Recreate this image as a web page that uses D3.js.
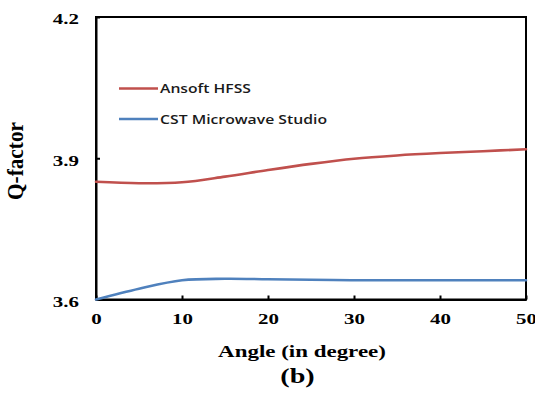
<!DOCTYPE html>
<html>
<head>
<meta charset="utf-8">
<script src="https://cdn.jsdelivr.net/npm/d3@7"></script>
<style>
  html, body { margin: 0; padding: 0; background: #fff; }
  svg { display: block; }
</style>
</head>
<body>
<svg id="chart" width="535" height="402"></svg>
<script>
// Incidence angle (degrees) and simulated Q-factor from two solvers
const angles = [0, 5, 10, 15, 20, 25, 30, 35, 40, 45, 50];
const hfssQ  = [3.850, 3.847, 3.849, 3.861, 3.875, 3.888, 3.899, 3.906, 3.911, 3.915, 3.919];
const cstQ   = [3.600, 3.623, 3.641, 3.644, 3.643, 3.642, 3.641, 3.641, 3.641, 3.641, 3.641];
const seriesNames = ["Ansoft HFSS", "CST Microwave Studio"];
const seriesColors = ["#C0504D", "#4F81BD"];
const xTicks = [0, 10, 20, 30, 40, 50];
const yTicks = [3.6, 3.9, 4.2];

const svg = d3.select("#chart");
const m = { left: 96, top: 17, right: 526, bottom: 299.5 };
const stretch = 1.35; // wide serif lettering

const x = d3.scaleLinear().domain([0, 50]).range([m.left, m.right]);
const y = d3.scaleLinear().domain([3.6, 4.2]).range([m.bottom, m.top]);

const serif = "'Liberation Serif', 'Times New Roman', serif";

// Frame
svg.append("rect")
  .attr("x", m.left).attr("y", m.top)
  .attr("width", m.right - m.left).attr("height", m.bottom - m.top)
  .attr("fill", "none").attr("stroke", "#000").attr("stroke-width", 2);

// X axis with inward ticks
const gx = svg.append("g")
  .attr("transform", `translate(0,${m.bottom})`)
  .call(d3.axisBottom(x).tickValues(xTicks).tickFormat(d3.format("d"))
        .tickSizeInner(-4).tickSizeOuter(0).tickPadding(13));
gx.select(".domain").attr("stroke-width", 2);
gx.selectAll(".tick line").attr("stroke-width", 2);
gx.selectAll(".tick text")
  .attr("font-family", serif).attr("font-weight", "bold").attr("font-size", 15.5)
  .attr("fill", "#000")
  .attr("transform", `scale(${stretch},1)`);

// Y axis with inward ticks
const gy = svg.append("g")
  .attr("transform", `translate(${m.left},0)`)
  .call(d3.axisLeft(y).tickValues(yTicks).tickFormat(d3.format(".1f"))
        .tickSizeInner(-4).tickSizeOuter(0).tickPadding(0));
gy.select(".domain").attr("stroke-width", 2);
gy.selectAll(".tick line").attr("stroke-width", 2);
gy.selectAll(".tick text")
  .attr("font-family", serif).attr("font-weight", "bold").attr("font-size", 15.5)
  .attr("fill", "#000")
  .attr("x", -17 / stretch)
  .attr("dy", "0.45em")
  .attr("transform", `scale(${stretch},1)`);

// Smoothed curves
const line = d3.line()
  .x((d, i) => x(angles[i]))
  .y(d => y(d))
  .curve(d3.curveCatmullRom.alpha(0.5));

[hfssQ, cstQ].forEach((vals, k) => {
  svg.append("path")
    .datum(vals)
    .attr("d", line)
    .attr("fill", "none")
    .attr("stroke", seriesColors[k])
    .attr("stroke-width", 2.6)
    .attr("stroke-linecap", "round");
});

// Legend
const legendY = [88.5, 119];
seriesNames.forEach((name, k) => {
  svg.append("line")
    .attr("x1", 119).attr("x2", 158)
    .attr("y1", legendY[k]).attr("y2", legendY[k])
    .attr("stroke", seriesColors[k]).attr("stroke-width", 2.6);
  svg.append("text")
    .attr("x", 160).attr("y", legendY[k] + 4.5)
    .attr("font-family", "'Open Sans', 'Liberation Sans', sans-serif")
    .attr("font-size", 12.5)
    .attr("font-weight", 600)
    .attr("fill", "#1a1a1a")
    .attr("textLength", k === 0 ? 91 : 167)
    .attr("lengthAdjust", "spacingAndGlyphs")
    .text(name);
});

// Axis titles
svg.append("text")
  .attr("transform", `translate(302,357) scale(${stretch},1)`)
  .attr("text-anchor", "middle")
  .attr("font-family", serif).attr("font-weight", "bold").attr("font-size", 17)
  .text("Angle (in degree)");

svg.append("text")
  .attr("transform", `translate(23,161) rotate(-90) scale(1,${stretch})`)
  .attr("text-anchor", "middle")
  .attr("font-family", serif).attr("font-weight", "bold").attr("font-size", 17)
  .attr("textLength", 78).attr("lengthAdjust", "spacingAndGlyphs")
  .text("Q-factor");

// Panel label
svg.append("text")
  .attr("transform", `translate(297.5,383) scale(${stretch * 0.95},1)`)
  .attr("text-anchor", "middle")
  .attr("font-family", serif).attr("font-weight", "bold").attr("font-size", 22)
  .text("(b)");
</script>
</body>
</html>
